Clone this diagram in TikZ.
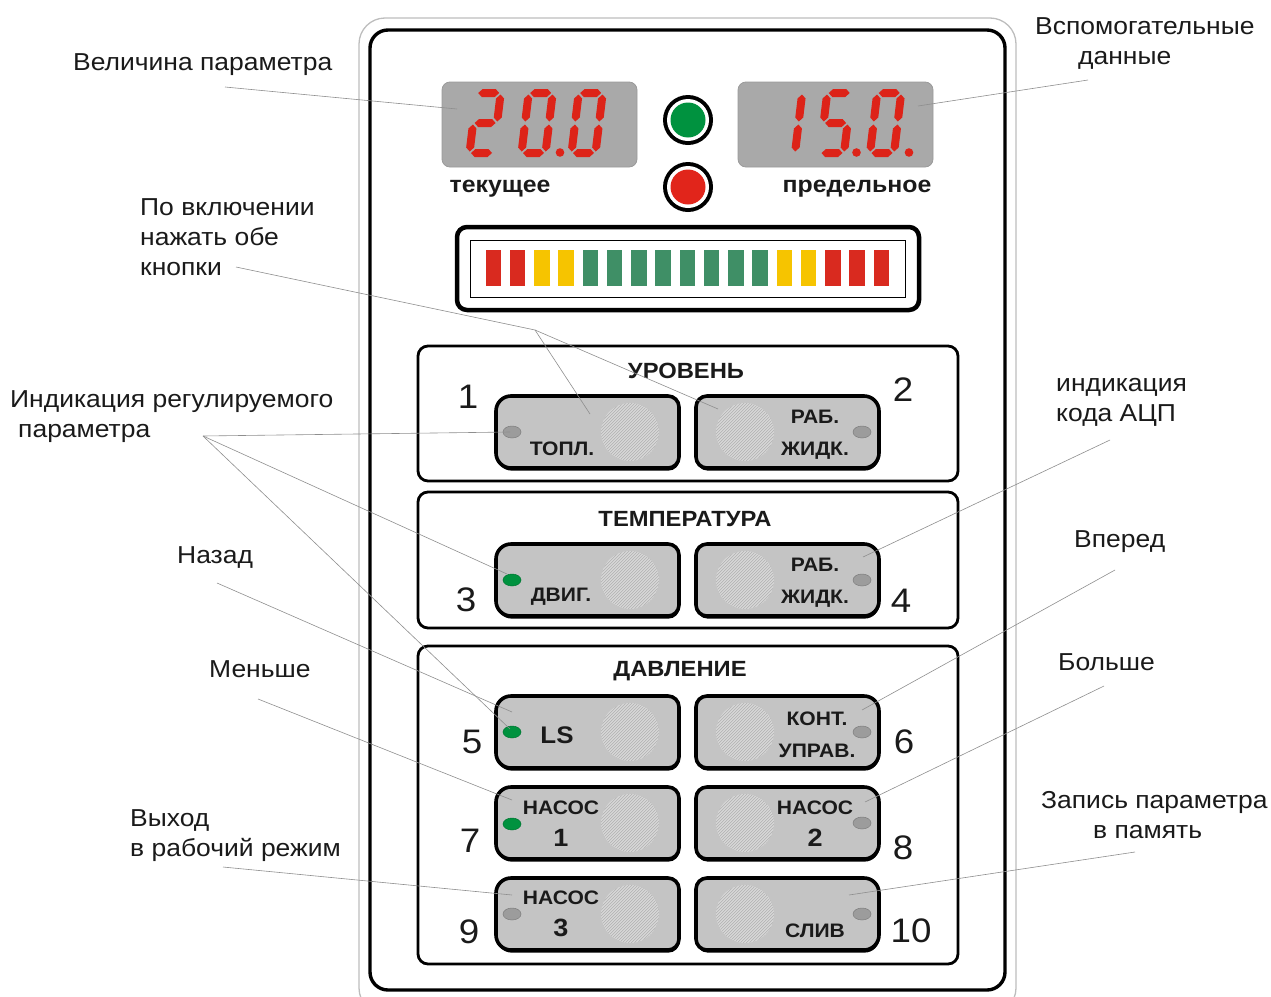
\documentclass[tikz,border=0pt]{standalone}
\usepackage{fontspec}
\setmainfont[FakeStretch=1.08]{Liberation Sans}
\usetikzlibrary{calc}

\definecolor{segred}{HTML}{DD2318}
\definecolor{dispgray}{HTML}{A9A9A9}
\definecolor{dispedge}{HTML}{9A9A9A}
\definecolor{ledgreen}{HTML}{00923F}
\definecolor{ledred}{HTML}{E1251B}
\definecolor{bargreen}{HTML}{3F8F66}
\definecolor{baryellow}{HTML}{F6C400}
\definecolor{barred}{HTML}{D92A1F}
\definecolor{btngray}{HTML}{C4C4C4}
\definecolor{grillgray}{HTML}{DADADA}
\definecolor{grillline}{HTML}{B4B4B4}
\definecolor{leadgray}{HTML}{8E8E8E}
\definecolor{panelgray}{HTML}{BDBDBD}
\definecolor{ledgray}{HTML}{9C9C9C}
\definecolor{txt}{HTML}{1A1A1A}

\tikzset{
  lab/.style={font=\fontsize{24.5}{30}\selectfont, inner sep=0pt, align=left, text=txt},
  lead/.style={draw=leadgray, line width=0.6pt},
  btxt/.style={font=\bfseries\fontsize{19.5}{32}\selectfont, inner sep=0pt, align=center, text=txt},
  bbig/.style={font=\bfseries\fontsize{24}{28}\selectfont, inner sep=0pt, text=txt},
  ttl/.style={font=\bfseries\fontsize{22}{25}\selectfont, inner sep=0pt, text=txt},
  numlab/.style={font=\fontsize{34}{40}\selectfont, inner sep=0pt, text=txt},
  secbox/.style={line width=2.8pt, rounded corners=10pt},
}

% seven segment helpers (local coords, y downward)
\newcommand\hsegm[3]{\fill[segred] (#1,#3) -- ({#1+4},{#3-4}) -- ({#2-4},{#3-4}) -- (#2,#3) -- ({#2-4},{#3+4}) -- ({#1+4},{#3+4}) -- cycle;}
\newcommand\vsegm[3]{\fill[segred] (#1,#2) -- ({#1+4},{#2+4}) -- ({#1+4},{#3-4}) -- (#1,#3) -- ({#1-4},{#3-4}) -- ({#1-4},{#2+4}) -- cycle;}
\newcommand\segAA{\hsegm{1.5}{22.5}{-60}}
\newcommand\segBB{\vsegm{24}{-58.5}{-31.5}}
\newcommand\segCC{\vsegm{24}{-28.5}{-1.5}}
\newcommand\segDD{\hsegm{1.5}{22.5}{0}}
\newcommand\segEE{\vsegm{0}{-28.5}{-1.5}}
\newcommand\segFF{\vsegm{0}{-58.5}{-31.5}}
\newcommand\segGG{\hsegm{1.5}{22.5}{-30}}
\newcommand\segdigit[3]{\begin{scope}[shift={(#1,#2)},xslant=0.12]#3\end{scope}}

% button outline path: x1 y1 x2 y2 rLeft rRight
\newcommand\btnpath[6]{({#1+#5},{#2}) -- ({#3-#6},{#2}) .. controls ({#3-0.45*#6},{#2}) and ({#3},{#2+0.45*#6}) .. ({#3},{#2+#6}) -- ({#3},{#4-#6}) .. controls ({#3},{#4-0.45*#6}) and ({#3-0.45*#6},{#4}) .. ({#3-#6},{#4}) -- ({#1+#5},{#4}) .. controls ({#1+0.45*#5},{#4}) and ({#1},{#4-0.45*#5}) .. ({#1},{#4-#5}) -- ({#1},{#2+#5}) .. controls ({#1},{#2+0.45*#5}) and ({#1+0.45*#5},{#2}) .. ({#1+#5},{#2}) -- cycle}
\newcommand\btnshape[4]{%
  \fill[black, shift={(0.6,2.6)}] \btnpath{#1}{#2}{#1+183}{#2+72}{#3}{#4};
  \draw[line width=3.6pt, fill=btngray] \btnpath{#1}{#2}{#1+183}{#2+72}{#3}{#4};}
\newcommand\grill[2]{%
  \begin{scope}
    \clip (#1,#2) circle (29);
    \fill[grillgray] (#1,#2) circle (29);
    \foreach \k in {-72,-69,...,72} \draw[grillline, line width=0.7pt] ({#1+\k-36},{#2+36}) -- ({#1+\k+36},{#2-36});
  \end{scope}}
\newcommand\bled[3]{\filldraw[fill=#3, draw=#3!80!black, line width=0.5pt] (#1,#2) ellipse (9 and 6);}

\begin{document}
\begin{tikzpicture}[x=1pt,y=-1pt]
\useasboundingbox (0,0) rectangle (1271,996);
\clip (0,0) rectangle (1271,996);

% panel
\draw[draw=panelgray, line width=1.3pt, rounded corners=26pt] (359,18) rectangle (1016,1014);
\draw[line width=3.4pt, rounded corners=18pt] (370,30) rectangle (1005,990);

% displays
\draw[draw=dispedge, fill=dispgray, line width=0.8pt, rounded corners=8pt] (442,82) rectangle (637,167);
\draw[draw=dispedge, fill=dispgray, line width=0.8pt, rounded corners=8pt] (738,82) rectangle (933,167);
\segdigit{469.5}{153}{\segAA\segBB\segGG\segEE\segDD}
\segdigit{521.5}{153}{\segAA\segBB\segCC\segDD\segEE\segFF}
\fill[segred] (560,152.5) circle (4.3);
\segdigit{571.5}{153}{\segAA\segBB\segCC\segDD\segEE\segFF}
\segdigit{795}{153}{\segEE\segFF}
\segdigit{820}{153}{\segAA\segFF\segGG\segCC\segDD}
\fill[segred] (856.5,152.5) circle (4.3);
\segdigit{870}{153}{\segAA\segBB\segCC\segDD\segEE\segFF}
\fill[segred] (909,152.5) circle (4.3);
\coordinate (dispL) at (457,109);
\coordinate (dispR) at (918,106);

% status LEDs
\fill[black] (688,120) circle (25); \fill[white] (688,120) circle (21); \fill[ledgreen] (688,120) circle (17.5);
\fill[black] (688,187) circle (25); \fill[white] (688,187) circle (21); \fill[ledred] (688,187) circle (17.5);

\node[ttl, font=\bfseries\fontsize{23}{25}\selectfont] (tcur) at (500,189) {текущее};
\node[ttl, font=\bfseries\fontsize{23}{25}\selectfont] (tlim) at (857,189) {предельное};

% bar graph
\draw[line width=4.5pt, rounded corners=10pt] (457,227) rectangle (919,310);
\draw[line width=1pt] (470,240) rectangle (905,297);
\foreach \c [count=\i from 0] in {barred,barred,baryellow,baryellow,bargreen,bargreen,bargreen,bargreen,bargreen,bargreen,bargreen,bargreen,baryellow,baryellow,barred,barred,barred}
  \fill[\c] ({485.5+24.25*\i},250) rectangle ++(15.5,36);

% section boxes
\draw[secbox] (418,346) rectangle (958,481);
\draw[secbox] (418,492) rectangle (958,628);
\draw[secbox] (418,646) rectangle (958,964);
\node[ttl] (s1) at (686,371) {УРОВЕНЬ};
\node[ttl] (s2) at (685,519) {ТЕМПЕРАТУРА};
\node[ttl] (s3) at (680,671) {ДАВЛЕНИЕ};

% buttons
\btnshape{496}{396}{15}{11} \btnshape{696}{396}{11}{15}
\btnshape{496}{544}{15}{11} \btnshape{696}{544}{11}{15}
\btnshape{496}{696}{15}{11} \btnshape{696}{696}{11}{15}
\btnshape{496}{787}{15}{11} \btnshape{696}{787}{11}{15}
\btnshape{496}{878}{15}{11} \btnshape{696}{878}{11}{15}
\foreach \yy in {432,580,732,823,914} {\grill{630}{\yy} \grill{745}{\yy}}
\bled{512}{432}{ledgray} \bled{862}{432}{ledgray}
\bled{512}{580}{ledgreen} \bled{862}{580}{ledgray}
\bled{512}{732}{ledgreen} \bled{862}{732}{ledgray}
\bled{512}{824}{ledgreen} \bled{862}{823}{ledgray}
\bled{512}{914}{ledgray} \bled{862}{914}{ledgray}

\node[btxt] (b1) at (562,449) {ТОПЛ.};
\node[btxt] (b2) at (815,435) {РАБ.\\ЖИДК.};
\node[btxt] (b3) at (561,597) {ДВИГ.};
\node[btxt] (b4) at (815,583) {РАБ.\\ЖИДК.};
\node[bbig] (b5) at (557,735) {LS};
\node[btxt] (b6) at (817,735) {КОНТ.\\УПРАВ.};
\node[btxt] (b7) at (561,824) {НАСОС\\{\fontsize{25}{28}\selectfont 1}};
\node[btxt] (b8) at (815,824) {НАСОС\\{\fontsize{25}{28}\selectfont 2}};
\node[btxt] (b9) at (561,914) {НАСОС\\{\fontsize{25}{28}\selectfont 3}};
\node[btxt] (b10) at (815,931) {СЛИВ};

\node[numlab] (n1) at (468,397) {1};
\node[numlab] (n2) at (903,390) {2};
\node[numlab] (n3) at (466,600) {3};
\node[numlab] (n4) at (901,601) {4};
\node[numlab] (n5) at (472,742) {5};
\node[numlab] (n6) at (904,742) {6};
\node[numlab] (n7) at (470,841) {7};
\node[numlab] (n8) at (903,848) {8};
\node[numlab] (n9) at (469,932) {9};
\node[numlab] (n10) at (911,931) {10};

% leader targets
\coordinate (tb1) at (590,414);
\coordinate (tb2) at (718,409);
\coordinate (fork) at (535,330);
\coordinate (led1) at (510,432);
\coordinate (led3) at (507,574);
\coordinate (led5) at (510,729);
\coordinate (tb5) at (512,712);
\coordinate (tb7) at (512,800);
\coordinate (tb9) at (512,895);
\coordinate (tb4) at (863,557);
\coordinate (tb6) at (862,710);
\coordinate (tb8) at (865,802);
\coordinate (tb10) at (849,895);

% labels
\node[lab, anchor=north west] (lvel) at (73,53) {Величина параметра};
\node[lab, anchor=north west] (lpo) at (140,198) {По включении\\нажать обе\\кнопки};
\node[lab, anchor=north west] (lind) at (10,390) {Индикация регулируемого\\\hspace*{8pt}параметра};
\node[lab, anchor=north west] (lnaz) at (177,546) {Назад};
\node[lab, anchor=north west] (lmen) at (209,660) {Меньше};
\node[lab, anchor=north west] (lvyh) at (130,809) {Выход\\в рабочий режим};
\node[lab, anchor=north west] (lvsp) at (1035,17) {Вспомогательные\\\hspace*{43pt}данные};
\node[lab, anchor=north west] (ladc) at (1056,378) {индикация\\кода АЦП};
\node[lab, anchor=north west] (lvpe) at (1074,530) {Вперед};
\node[lab, anchor=north west] (lbol) at (1058,653) {Больше};
\node[lab, anchor=north west] (lzap) at (1041,791) {Запись параметра\\\hspace*{52pt}в память};

\coordinate (cvel) at (225,87);
\coordinate (cpo) at (236,267);
\coordinate (cind) at (203,436);
\coordinate (cnaz) at (217,583);
\coordinate (cmen) at (258,699);
\coordinate (cvyh) at (223,867);
\coordinate (cvsp) at (1088,80);
\coordinate (cadc) at (1110,440);
\coordinate (cvpe) at (1115,570);
\coordinate (cbol) at (1104,686);
\coordinate (czap) at (1135,852);

\draw[lead] (cvel) -- (dispL);
\draw[lead] (cvsp) -- (dispR);
\draw[lead] (cpo) -- (fork) -- (tb1);
\draw[lead] (fork) -- (tb2);
\draw[lead] (cind) -- (led1);
\draw[lead] (cind) -- (led3);
\draw[lead] (cind) -- (led5);
\draw[lead] (cnaz) -- (tb5);
\draw[lead] (cmen) -- (tb7);
\draw[lead] (cvyh) -- (tb9);
\draw[lead] (cadc) -- (tb4);
\draw[lead] (cvpe) -- (tb6);
\draw[lead] (cbol) -- (tb8);
\draw[lead] (czap) -- (tb10);
\end{tikzpicture}
\end{document}
